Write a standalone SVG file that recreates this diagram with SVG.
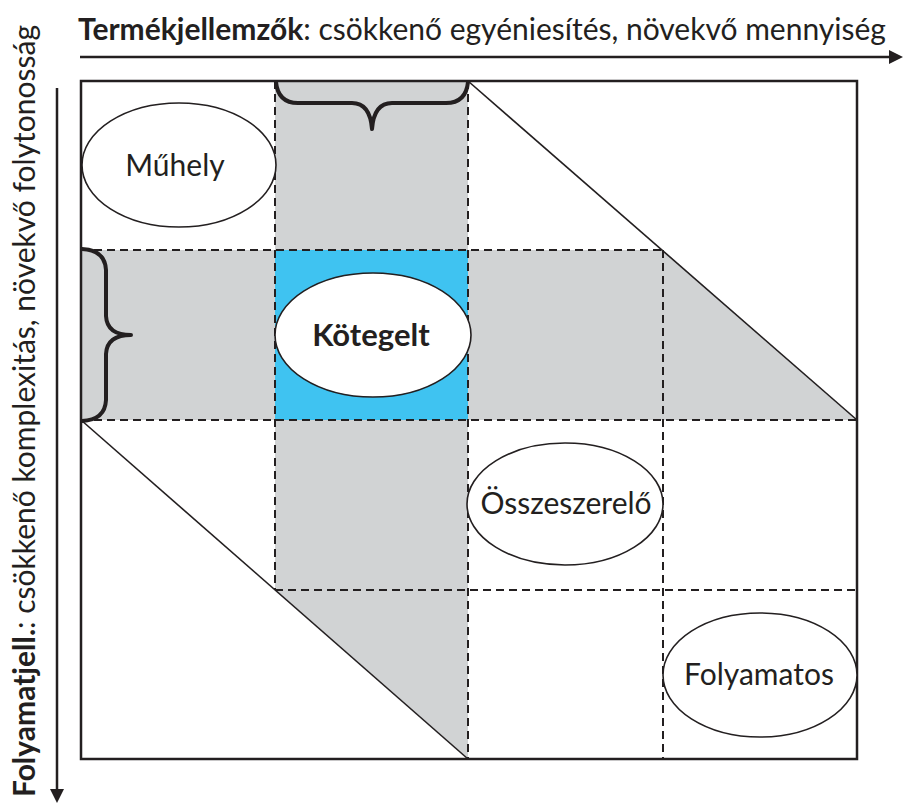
<svg xmlns="http://www.w3.org/2000/svg" width="903" height="803" viewBox="0 0 903 803">
  <style>
    .lbl { font-family: Lato, "Open Sans", "Liberation Sans", sans-serif; fill: #231F20; }
    .ax { font-size: 30px; }
    .nd { font-size: 30px; text-anchor: middle; }
    .b { font-weight: bold; }
    .dash { stroke: #231F20; stroke-width: 2; stroke-dasharray: 8 5; fill: none; }
    .diag { stroke: #231F20; stroke-width: 1.6; fill: none; }
    .ell { fill: #FFFFFF; stroke: #231F20; stroke-width: 1.6; }
    .brace { fill: none; stroke: #231F20; stroke-width: 4; stroke-linecap: round; stroke-linejoin: round; }
    .axis { stroke: #231F20; stroke-width: 2.5; }
  </style>
  <rect width="903" height="803" fill="#FFFFFF"/>

  <g id="fills">
    <polygon points="275,81 468,81 468,759 275,590" fill="#D1D3D4"/>
    <polygon points="81,250 663,250 857,420 81,420" fill="#D1D3D4"/>
    <rect x="275" y="250" width="193" height="170" fill="#3FC3F1"/>
  </g>

  <g id="grid">
    <line class="dash" x1="81" y1="250" x2="663" y2="250"/>
    <line class="dash" x1="81" y1="420" x2="857" y2="420"/>
    <line class="dash" x1="275" y1="590" x2="857" y2="590"/>
    <line class="dash" x1="275" y1="81" x2="275" y2="590"/>
    <line class="dash" x1="468" y1="81" x2="468" y2="759"/>
    <line class="dash" x1="663" y1="250" x2="663" y2="759"/>
    <line class="diag" x1="468" y1="81" x2="857" y2="420"/>
    <line class="diag" x1="81" y1="420" x2="468" y2="759"/>
    <rect x="81" y="81" width="776" height="678" fill="none" stroke="#231F20" stroke-width="2.5"/>
  </g>

  <g id="braces">
    <path class="brace" d="M276,82 Q278,103 298,103 L352,103 Q370,103 372,129 Q374,103 392,103 L446,103 Q466,103 468,82"/>
    <path class="brace" d="M82,249 Q105,250 106,270 L106,316 Q107,335 131,335 Q107,335 106,354 L106,400 Q105,420 82,421"/>
  </g>

  <g id="axes">
    <line class="axis" x1="80" y1="57" x2="891" y2="57"/>
    <polygon points="889,50 903,57 889,64" fill="#231F20"/>
    <line class="axis" x1="57" y1="88" x2="57" y2="791"/>
    <polygon points="50,789 57,803 64,789" fill="#231F20"/>
    <text class="lbl ax" x="78" y="40"><tspan class="b">Termékjellemzők</tspan>: csökkenő egyéniesítés, növekvő mennyiség</text>
    <text class="lbl ax" transform="translate(35,797) rotate(-90)"><tspan class="b">Folyamatjell.</tspan>: csökkenő komplexitás, növekvő folytonosság</text>
  </g>

  <g id="node-muhely">
    <ellipse class="ell" cx="179" cy="165" rx="97" ry="62"/>
    <text class="lbl nd" x="175" y="176">Műhely</text>
  </g>
  <g id="node-kotegelt">
    <ellipse class="ell" cx="373" cy="335" rx="98" ry="62" stroke-width="4"/>
    <text class="lbl nd b" x="371" y="346" style="font-size:31px">Kötegelt</text>
  </g>
  <g id="node-osszeszerelo">
    <ellipse class="ell" cx="565" cy="504" rx="98" ry="61"/>
    <text class="lbl nd" x="566" y="514">Összeszerelő</text>
  </g>
  <g id="node-folyamatos">
    <ellipse class="ell" cx="760" cy="675" rx="97" ry="62"/>
    <text class="lbl nd" x="759" y="685">Folyamatos</text>
  </g>
</svg>
